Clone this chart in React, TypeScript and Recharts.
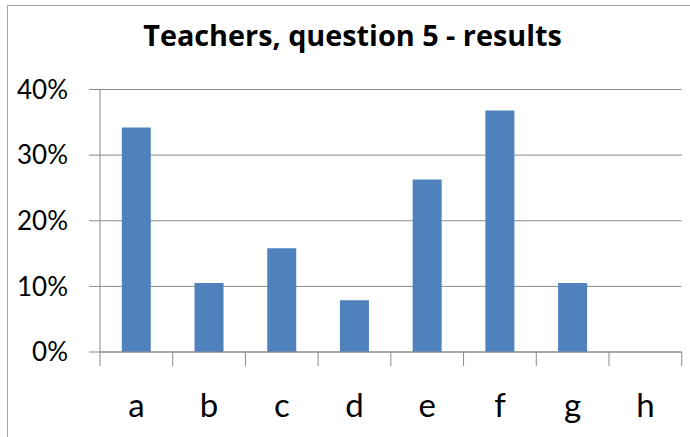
import React from 'react';
import { BarChart, Bar, XAxis, YAxis, CartesianGrid } from 'recharts';

// Teachers, question 5 - share of answers per option
const options = ['a', 'b', 'c', 'd', 'e', 'f', 'g', 'h'];
const shares = [34.2, 10.5, 15.8, 7.9, 26.3, 36.8, 10.5, 0];
const yTicks = [0, 10, 20, 30, 40];

const data = options.map((opt, i) => ({ opt, share: shares[i] }));

const FONT = 'Lato, "Open Sans", sans-serif';
const GRID = '#8a8a8a';

function OptionTick(props: any) {
    const { x, y, payload, index, visibleTicksCount } = props;
    const half = payload && payload.offset ? payload.offset : 0;
    const last = index === visibleTicksCount - 1;
    return (
        <g>
            <line x1={x - half} x2={x - half} y1={y} y2={y + 14} stroke={GRID} />
            {last && <line x1={x + half} x2={x + half} y1={y} y2={y + 14} stroke={GRID} />}
            <text x={x} y={y + 65} textAnchor="middle" fontFamily={FONT} fontSize={33} fill="#000">
                {payload.value}
            </text>
        </g>
    );
}

export default function App() {
    return (
        <div style={{ position: 'absolute', left: 0, top: 0, width: 690, height: 437, overflow: 'hidden', background: '#fff' }}>
            <div style={{ position: 'absolute', left: 7, top: 5, width: 720, height: 460, border: '1px solid #a6a6a6' }} />
            <div
                style={{
                    position: 'absolute', left: 0, top: 20, width: 705, textAlign: 'center',
                    fontFamily: '"Open Sans", sans-serif', fontWeight: 700, fontSize: 28.8,
                    color: '#000', lineHeight: '30px', whiteSpace: 'nowrap'
                }}
            >
                Teachers, question 5 - results
            </div>
            <BarChart
                width={690}
                height={437}
                data={data}
                margin={{ top: 89.5, right: 8.3, left: 0, bottom: 0 }}
                barCategoryGap="30%"
                style={{ position: 'absolute', left: 0, top: 0 }}
            >
                <CartesianGrid horizontal vertical={false} stroke={GRID} strokeDasharray="" />
                <XAxis
                    dataKey="opt"
                    height={85}
                    tickLine={false}
                    tickSize={0}
                    tickMargin={0}
                    interval={0}
                    axisLine={{ stroke: GRID }}
                    tick={<OptionTick />}
                />
                <YAxis
                    width={100}
                    domain={[0, 40]}
                    ticks={yTicks}
                    tickFormatter={(v: number) => `${v}%`}
                    tickSize={11}
                    tickMargin={21}
                    tickLine={{ stroke: GRID }}
                    axisLine={{ stroke: GRID }}
                    tick={{ fill: '#000', fontSize: 26, fontFamily: FONT }}
                />
                <Bar dataKey="share" fill="#4f81bd" isAnimationActive={false} />
            </BarChart>
        </div>
    );
}
